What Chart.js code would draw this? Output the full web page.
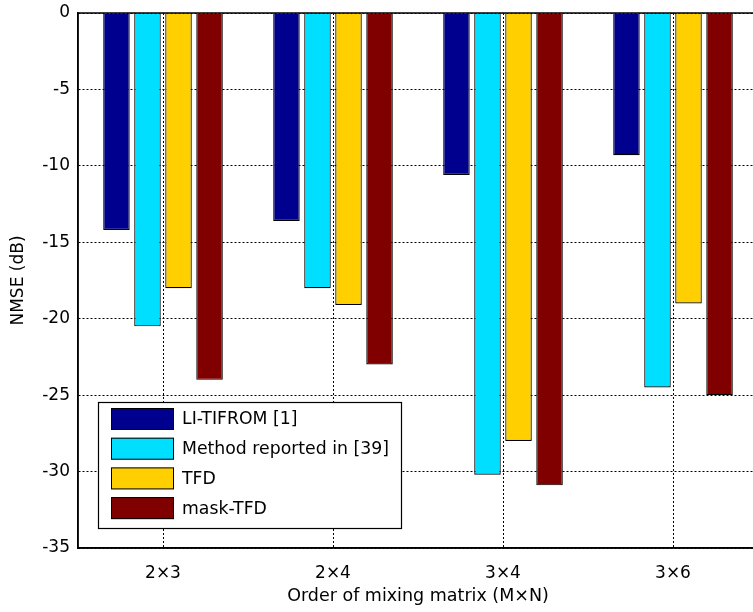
<!DOCTYPE html>
<html>
<head>
<meta charset="utf-8">
<script src="https://cdn.jsdelivr.net/npm/chart.js@4/dist/chart.umd.min.js"></script>
<style>
  html, body { margin: 0; padding: 0; background: #fff; overflow: hidden; }
  #wrap { width: 753px; height: 612px; overflow: hidden; }
  canvas { display: block; }
</style>
</head>
<body>
<div id="wrap"><canvas id="myChart" width="770" height="612"></canvas></div>
<script>
const categories = ["2\u00d73", "2\u00d74", "3\u00d74", "3\u00d76"];
const liTifrom = [-14.2, -13.6, -10.6, -9.3];
const method39 = [-20.5, -18.0, -30.2, -24.5];
const tfd = [-18.0, -19.1, -28.0, -19.0];
const maskTfd = [-24.0, -23.0, -30.9, -25.0];
const seriesNames = ["LI-TIFROM [1]", "Method reported in [39]", "TFD", "mask-TFD"];
const seriesColors = ["#00008f", "#00dfff", "#ffcf00", "#800000"];

const FONT = "'DejaVu Sans', 'Liberation Sans', Arial, sans-serif";

// box around the plot + legend drawn inside the plot area
const framePlugin = {
    id: "frame",
    afterDatasetsDraw(chart) {
        const ctx = chart.ctx;
        const a = chart.chartArea;
        ctx.save();
        ctx.strokeStyle = "#000";
        ctx.lineWidth = 1.5;
        ctx.strokeRect(a.left, a.top, a.right - a.left, a.bottom - a.top);

        // legend
        const x0 = 98, y0 = 402, w = 303, h = 126;
        ctx.fillStyle = "#fff";
        ctx.fillRect(x0, y0, w, h);
        ctx.lineWidth = 1.2;
        ctx.strokeRect(x0 + 0.5, y0 + 0.5, w, h);
        ctx.font = "17.3px " + FONT;
        ctx.textBaseline = "middle";
        chart.data.datasets.forEach((ds, i) => {
            const sy = 408 + i * 29.7;
            ctx.fillStyle = ds.backgroundColor;
            ctx.fillRect(111, sy, 63, 22);
            ctx.strokeStyle = "#000";
            ctx.lineWidth = 1;
            ctx.strokeRect(111.5, sy + 0.5, 62, 21);
            ctx.fillStyle = "#000";
            ctx.fillText(ds.label, 182, sy + 12);
        });
        ctx.restore();
    }
};

const datasets = [liTifrom, method39, tfd, maskTfd].map((vals, i) => ({
    label: seriesNames[i],
    data: vals,
    backgroundColor: seriesColors[i],
    borderColor: "#000",
    borderWidth: 1.2,
    categoryPercentage: 0.73,
    barPercentage: 0.855
}));

new Chart("myChart", {
    type: "bar",
    data: {
        labels: categories,
        datasets: datasets
    },
    options: {
        responsive: false,
        animation: false,
        layout: { padding: { top: 13, right: 12, left: 0, bottom: 0 } },
        plugins: {
            legend: { display: false },
            tooltip: { enabled: false }
        },
        scales: {
            x: {
                offset: true,
                grid: {
                    offset: false,
                    color: "#000",
                    lineWidth: 1,
                    drawTicks: false
                },
                border: { display: true, color: "#000", width: 1.5, dash: [2, 2] },
                ticks: {
                    color: "#000",
                    font: { family: FONT, size: 17 },
                    padding: 15
                },
                title: {
                    display: true,
                    text: "Order of mixing matrix (M\u00d7N)",
                    color: "#000",
                    font: { family: FONT, size: 17.5 },
                    padding: { top: 0, bottom: 5 }
                },
                afterFit(scale) {
                    scale.height = 64;
                    scale.paddingLeft = 0;
                    scale.paddingRight = 0;
                }
            },
            y: {
                min: -35,
                max: 0,
                grid: {
                    color: "#000",
                    lineWidth: 1,
                    drawTicks: false
                },
                border: { display: true, color: "#000", width: 1.5, dash: [2, 2] },
                ticks: {
                    stepSize: 5,
                    color: "#000",
                    font: { family: FONT, size: 17 },
                    padding: 8
                },
                title: {
                    display: true,
                    text: "NMSE (dB)",
                    color: "#000",
                    font: { family: FONT, size: 17 },
                    padding: { top: 8, bottom: 0 }
                },
                afterFit(scale) {
                    scale.width = 78;
                    scale.paddingTop = 0;
                    scale.paddingBottom = 0;
                }
            }
        }
    },
    plugins: [framePlugin]
});
</script>
</body>
</html>
